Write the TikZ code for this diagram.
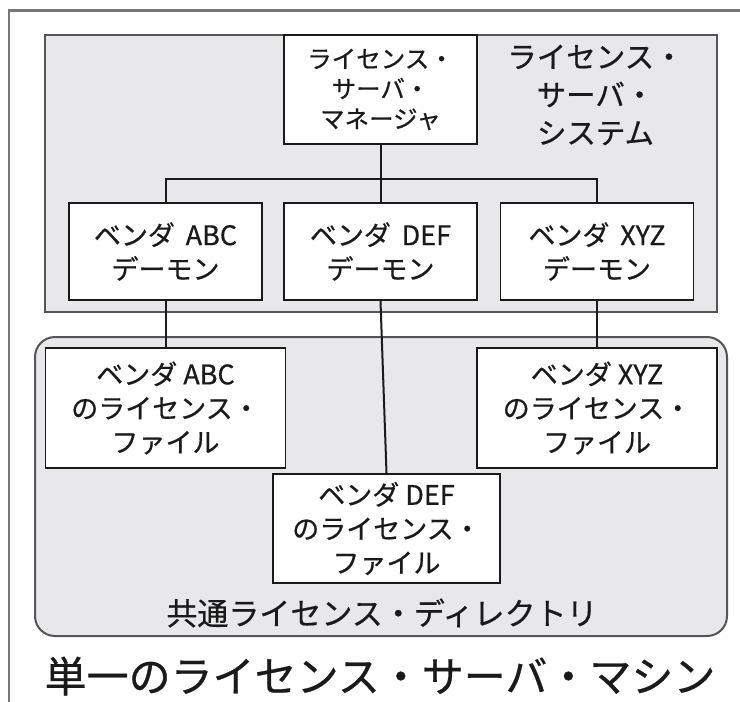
\documentclass[tikz,border=0pt]{standalone}
\usepackage{fontspec}
\setmainfont{Noto Sans CJK JP}[UprightFeatures={FakeBold=0.6}]
\definecolor{panel}{HTML}{E8E8EB}
\definecolor{ink}{HTML}{1A1A1A}
\definecolor{framegray}{HTML}{777777}
\definecolor{edge}{HTML}{555555}
\tikzset{
  box/.style={draw=ink, line width=1.9pt, fill=white, inner sep=0pt, align=center, text=ink},
  mgrbox/.style={box, minimum width=193pt, minimum height=109pt, font=\fontsize{24.5}{30}\selectfont},
  daemon/.style={box, minimum width=193pt, minimum height=97pt, font=\fontsize{27}{34}\selectfont},
  filebox/.style={box, minimum width=240pt, minimum height=120pt, font=\fontsize{27}{34}\selectfont},
  wire/.style={draw=ink, line width=2pt},
  panelbox/.style={draw=edge, fill=panel, line width=2pt, inner sep=0pt},
  label/.style={inner sep=0pt, align=center, text=ink}
}
\begin{document}
\begin{tikzpicture}[x=1pt,y=-1pt]
\useasboundingbox (0,0) rectangle (740,702);
\fill[white] (0,0) rectangle (740,702);
% outer frame
\draw[framegray, line width=2.5pt] (760,10.5) -- (9,10.5) -- (9,720);
% panels
\node[panelbox, minimum width=672pt, minimum height=277pt] (sys) at (381,173.5) {};
\node[panelbox, rounded corners=20pt, minimum width=692pt, minimum height=299pt] (dir) at (381,486.5) {};
% labels
\node[label, font=\fontsize{29.5}{38}\selectfont] (syslabel) at (595.5,95) {ライセンス・\\サーバ・\\システム};
\node[label, font=\fontsize{31}{38}\selectfont] (dirlabel) at (382,613) {共通ライセンス・ディレクトリ};
\node[label, font=\fontsize{42}{50}\selectfont] (title) at (380,676) {単一のライセンス・サーバ・マシン};
% boxes
\node[mgrbox] (mgr) at (380.5,89.5) {ライセンス・\\サーバ・\\マネージャ};
\node[daemon] (abc) at (165.5,251.5) {ベンダ\hspace{0.4em}ABC\\デーモン};
\node[daemon] (def) at (380.5,251.5) {ベンダ\hspace{0.4em}DEF\\デーモン};
\node[daemon] (xyz) at (597,251.5) {ベンダ\hspace{0.4em}XYZ\\デーモン};
\node[filebox] (fabc) at (165.5,408) {ベンダ ABC\\のライセンス・\\ファイル};
\node[filebox] (fxyz) at (597,408) {ベンダ XYZ\\のライセンス・\\ファイル};
\node[filebox, minimum width=227pt, minimum height=109pt] (fdef) at (386.5,528.5) {ベンダ DEF\\のライセンス・\\ファイル};
% connectors
\coordinate (bus) at (380.5,179);
\draw[wire] (mgr.south) -- (def.north);
\draw[wire] (abc.north) -- (abc.north |- bus) -- (xyz.north |- bus) -- (xyz.north);
\draw[wire] (abc.south) -- (fabc.north);
\draw[wire] (xyz.south) -- (fxyz.north);
\draw[wire] (def.south) -- (fdef.north);
\end{tikzpicture}
\end{document}
